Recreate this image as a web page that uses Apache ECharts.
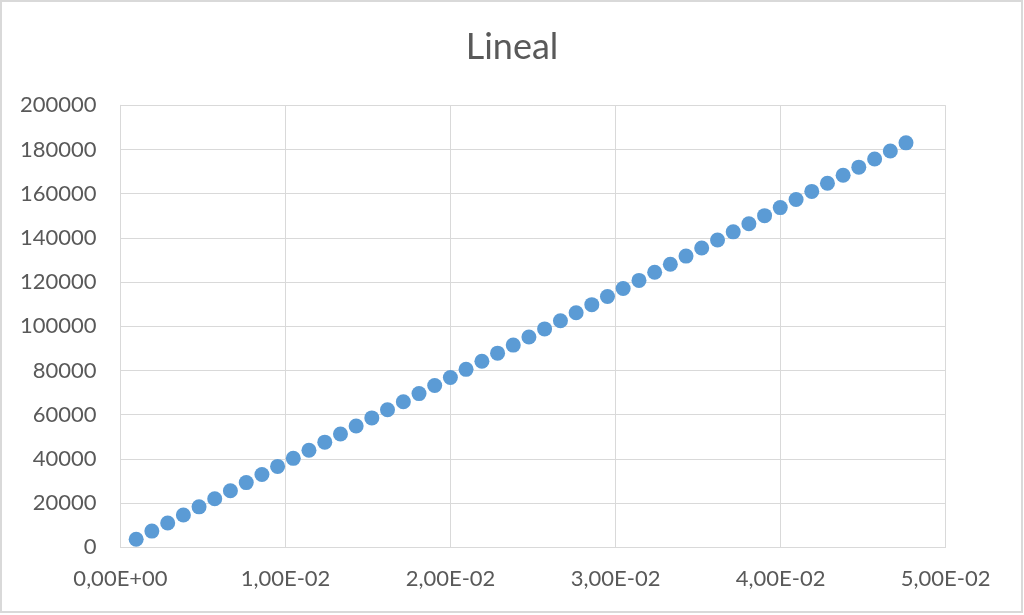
<!DOCTYPE html>
<html>
<head>
<meta charset="utf-8">
<script src="https://cdn.jsdelivr.net/npm/echarts@6/dist/echarts.min.js"></script>
<style>
html,body{margin:0;padding:0;background:#fff;}
#c{width:1024px;height:615px;}
</style>
</head>
<body>
<div id="c"></div>
<script>
var titleText = 'Lineal';
var xValues = [0.00095, 0.0019, 0.00286, 0.00381, 0.00476, 0.00571, 0.00666, 0.00762, 0.00857, 0.00952,
  0.01047, 0.01142, 0.01238, 0.01333, 0.01428, 0.01523, 0.01618, 0.01714, 0.01809, 0.01904,
  0.01999, 0.02094, 0.0219, 0.02285, 0.0238, 0.02475, 0.0257, 0.02666, 0.02761, 0.02856,
  0.02951, 0.03046, 0.03142, 0.03237, 0.03332, 0.03427, 0.03522, 0.03618, 0.03713, 0.03808,
  0.03903, 0.03998, 0.04094, 0.04189, 0.04284, 0.04379, 0.04474, 0.0457, 0.04665, 0.0476];
var yValues = [3660, 7320, 10980, 14640, 18300, 21960, 25620, 29280, 32940, 36600,
  40260, 43920, 47580, 51240, 54900, 58560, 62220, 65880, 69540, 73200,
  76860, 80520, 84180, 87840, 91500, 95160, 98820, 102480, 106140, 109800,
  113460, 117120, 120780, 124440, 128100, 131760, 135420, 139080, 142740, 146400,
  150060, 153720, 157380, 161040, 164700, 168360, 172020, 175680, 179340, 183000];
var xTicks = {min: 0, max: 0.05, interval: 0.01};
var yTicks = {min: 0, max: 200000, interval: 20000};

function sci(v) {
  if (Math.abs(v) < 1e-12) return '0,00E+00';
  var s = v.toExponential(2);
  var parts = s.split('e');
  var mant = parts[0].replace('.', ',');
  var e = parseInt(parts[1], 10);
  var sign = e < 0 ? '-' : '+';
  var ea = Math.abs(e);
  return mant + 'E' + sign + (ea < 10 ? '0' + ea : '' + ea);
}

var data = xValues.map(function (x, i) { return [x, yValues[i]]; });
var font = 'Lato, "Open Sans", sans-serif';
var chart = echarts.init(document.getElementById('c'), null, {renderer: 'canvas'});
chart.setOption({
  backgroundColor: '#fff',
  animation: false,
  title: {
    text: titleText, left: 'center', top: 24,
    textStyle: {fontFamily: font, fontSize: 36, fontWeight: 'normal', color: '#595959'}
  },
  graphic: [{
    type: 'rect', shape: {x: 1, y: 1, width: 1021, height: 611},
    style: {fill: 'none', stroke: '#D9D9D9', lineWidth: 2}, silent: true
  }],
  grid: {left: 120.5, right: 78.4, top: 105.3, bottom: 67.7, outerBoundsMode: 'none', containLabel: false},
  xAxis: {
    type: 'value', min: xTicks.min, max: xTicks.max, interval: xTicks.interval,
    axisLine: {show: true, onZero: false, lineStyle: {color: '#D9D9D9', width: 1}},
    axisTick: {show: false},
    splitLine: {show: true, lineStyle: {color: '#D9D9D9', width: 1}},
    axisLabel: {fontFamily: font, fontSize: 22, color: '#595959', margin: 21, formatter: sci,
      showMinLabel: true, showMaxLabel: true}
  },
  yAxis: {
    type: 'value', min: yTicks.min, max: yTicks.max, interval: yTicks.interval,
    axisLine: {show: true, lineStyle: {color: '#D9D9D9', width: 1}},
    axisTick: {show: false},
    splitLine: {show: true, lineStyle: {color: '#D9D9D9', width: 1}},
    axisLabel: {fontFamily: font, fontSize: 22, color: '#595959', margin: 24,
      formatter: function (v) { return String(v); },
      showMinLabel: true, showMaxLabel: true}
  },
  series: [{
    type: 'scatter', data: data, symbol: 'circle', symbolSize: 15,
    itemStyle: {color: '#5B9BD5', opacity: 1}
  }]
});
</script>
</body>
</html>
